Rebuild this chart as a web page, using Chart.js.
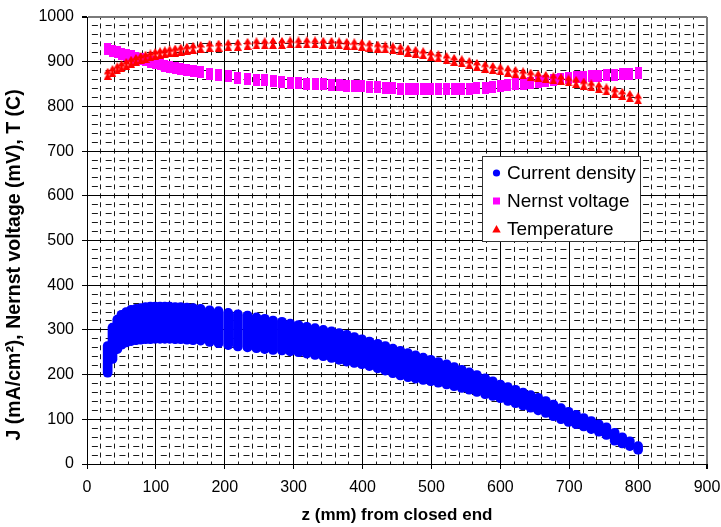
<!DOCTYPE html>
<html><head><meta charset="utf-8">
<script src="https://cdn.jsdelivr.net/npm/chart.js@4.4.1/dist/chart.umd.min.js"></script>
<style>html,body{margin:0;padding:0;background:#fff;}#wrap{width:721px;height:527px;}</style>
</head><body><div id="wrap"><canvas id="c" width="721" height="527"></canvas></div>
<script>
// z positions (mm from closed end)
const zPos = [30,37,44,50,57,64,71,78,85,92,99,106,113,120,128,136,145,154,165,178,191,205,219,233,246,258,270,283,295,307,319,331,343,355,366,377,388,399,410,422,433,444,455,466,477,488,499,510,522,533,544,555,566,578,589,600,611,622,633,644,655,666,677,688,699,710,721,732,743,754,766,777,788,800];
// current density spread at each z (mA/cm2): upper and lower extent of the stacked dots
const jHigh = [274,315,333,344,350,355,357,359,361,362,362,362,362,362,361,361,360,359,357,354,352,348,345,342,338,335,331,328,324,321,317,314,310,307,303,299,294,289,284,279,274,268,263,258,253,248,243,238,233,227,221,215,209,202,195,188,182,176,170,164,158,151,143,135,127,120,113,106,99,92,80,70,61,50];
const jLow = [194,225,247,257,262,265,267,268,269,269,270,270,270,270,269,269,268,267,266,263,260,256,253,251,249,247,245,244,242,240,237,234,231,227,223,219,216,213,209,204,199,193,188,184,181,178,175,172,168,164,160,156,151,146,142,137,131,126,121,116,110,104,97,90,84,79,74,68,62,55,42,36,30,22];
// Nernst voltage (mV)
const nernst = [929,925,921,918,915,912,909,906,903,900,897,894,891,889,886,884,881,879,876,873,870,867,864,862,860,858,856,855,853,852,851,850,849,848,847,846,845,845,844,843,842,841,840,840,839,838,838,838,838,838,839,840,841,842,844,846,847,849,851,853,855,857,859,861,863,865,866,867,869,870,871,872,873,874];
// Temperature (C)
const temperature = [873,879,885,890,895,900,904,908,911,914,917,919,921,923,925,927,929,931,933,935,936,937,938,940,941,941,942,942,943,943,943,943,942,942,941,940,939,938,936,934,932,930,928,925,922,919,915,912,908,904,901,897,893,889,886,883,880,877,874,871,868,866,863,861,858,855,851,847,843,838,833,828,823,818];
const seriesNames = ['Current density','Nernst voltage','Temperature'];
const xTickLabels = [0,100,200,300,400,500,600,700,800,900];
const yTickLabels = [0,100,200,300,400,500,600,700,800,900,1000];

const FONT = '"Liberation Sans", Arial, sans-serif';
Chart.defaults.font.family = FONT;
Chart.defaults.color = '#000';

function makeMark(w, h, color, kind) {
  const c = document.createElement('canvas');
  c.width = w; c.height = h;
  const g = c.getContext('2d');
  g.fillStyle = color;
  if (kind === 'rect') { g.fillRect(0, 0, w, h); }
  else {
    g.beginPath();
    g.moveTo(w/2, 0); g.lineTo(w, 6.5); g.lineTo(0, 6.5); g.closePath();
    g.moveTo(w/2, 4.5); g.lineTo(w, h); g.lineTo(0, h); g.closePath();
    g.fill();
  }
  return c;
}
const nernstMark = makeMark(7, 12, '#FF00FF', 'rect');
const tempMark = makeMark(8, 12, '#FF0000', 'tri');

function isMajor(v, labels) { return labels.includes(Math.round(v)); }

const boxLegend = {
  id: 'boxLegend',
  afterDraw(chart) {
    const ctx = chart.ctx;
    const L = 482.5, T = 156.5, W = 158, H = 85;
    ctx.save();
    ctx.fillStyle = '#fff';
    ctx.fillRect(L, T, W, H);
    ctx.strokeStyle = '#333';
    ctx.lineWidth = 1;
    ctx.strokeRect(L, T, W, H);
    const rows = [173, 201, 229];
    const mx = 496.5;
    ctx.fillStyle = '#0000FF';
    ctx.beginPath(); ctx.arc(mx, rows[0], 3.6, 0, Math.PI*2); ctx.fill();
    ctx.fillStyle = '#FF00FF';
    ctx.fillRect(mx - 3.5, rows[1] - 3.5, 7, 7);
    ctx.fillStyle = '#FF0000';
    ctx.beginPath(); ctx.moveTo(mx, rows[2] - 4); ctx.lineTo(mx + 4.2, rows[2] + 3.5); ctx.lineTo(mx - 4.2, rows[2] + 3.5); ctx.closePath(); ctx.fill();
    ctx.fillStyle = '#000';
    ctx.font = '19px ' + FONT;
    ctx.textBaseline = 'middle';
    ctx.textAlign = 'left';
    const ds = chart.data.datasets;
    for (let i = 0; i < 3; i++) ctx.fillText(ds[i].label, 507, rows[i] + 1);
    ctx.restore();
  }
};

const gridColor = (labels, edge) => (c) => {
  if (!c.tick) return '#000';
  const v = Math.round(c.tick.value);
  if (v === edge) return '#7a7a7a';
  return isMajor(v, labels) ? '#000' : '#1a1a1a';
};

// layout targets (plot area in px)
const target = {left: 87, right: 707, top: 17, bottom: 464};
let yAxisWidth = 87, xAxisHeight = 63;
const pad = {top: 17, right: 14, left: 0, bottom: 0};

const chart = new Chart(document.getElementById('c'), {
  type: 'scatter',
  data: {
    datasets: [
      {
        type: 'bar', label: seriesNames[0],
        data: zPos.map((z, i) => ({x: z, y: [jLow[i], jHigh[i]]})),
        backgroundColor: '#0000FF', borderWidth: 0, barThickness: 9,
        borderRadius: 4.5, borderSkipped: false, order: 3
      },
      {
        type: 'scatter', label: seriesNames[1],
        data: zPos.map((z, i) => ({x: z, y: nernst[i]})),
        pointStyle: nernstMark, backgroundColor: '#FF00FF', borderWidth: 0, order: 2
      },
      {
        type: 'scatter', label: seriesNames[2],
        data: zPos.map((z, i) => ({x: z, y: temperature[i]})),
        pointStyle: tempMark, backgroundColor: '#FF0000', borderWidth: 0, order: 1
      }
    ]
  },
  options: {
    responsive: false, animation: false, devicePixelRatio: 1,
    layout: {padding: Object.assign({}, pad)},
    plugins: {legend: {display: false}, tooltip: {enabled: false}},
    scales: {
      x: {
        type: 'linear', min: 0, max: 900, offset: false,
        ticks: {stepSize: 20, autoSkip: false, maxRotation: 0, maxTicksLimit: 1000, padding: 0,
          font: {size: 16, lineHeight: '38px'}, color: '#000',
          callback: (v) => isMajor(v, xTickLabels) ? String(Math.round(v)) : ''},
        grid: {
          offset: false,
          color: gridColor(xTickLabels, 900),
          lineWidth: (c) => (c.tick && Math.round(c.tick.value) === 900) ? 2 : 1,
          tickLength: 5,
          tickColor: (c) => (c.tick && isMajor(c.tick.value, xTickLabels)) ? '#000' : 'rgba(0,0,0,0)'
        },
        border: {display: true, color: '#000', width: 1,
          dash: (c) => (c.tick && !isMajor(c.tick.value, xTickLabels)) ? [5, 3.94] : [],
          dashOffset: 2.5},
        title: {display: true, text: 'z (mm) from closed end', color: '#000',
          font: {size: 17, weight: 'bold'}, padding: {top: 0, bottom: 1}},
        afterFit: (s) => { s.height = xAxisHeight; }
      },
      y: {
        type: 'linear', min: 0, max: 1000, offset: false,
        ticks: {stepSize: 20, autoSkip: false, maxTicksLimit: 1000, padding: 8,
          font: {size: 16, lineHeight: 1}, color: '#000',
          callback: (v) => isMajor(v, yTickLabels) ? String(Math.round(v)) : ''},
        grid: {
          offset: false,
          color: gridColor(yTickLabels, 1000),
          lineWidth: (c) => (c.tick && Math.round(c.tick.value) === 1000) ? 2 : 1,
          tickLength: 5,
          tickColor: (c) => (c.tick && isMajor(c.tick.value, yTickLabels)) ? '#000' : 'rgba(0,0,0,0)'
        },
        border: {display: true, color: '#000', width: 1,
          dash: (c) => (c.tick && !isMajor(c.tick.value, yTickLabels)) ? [6, 7.78] : [],
          dashOffset: 9.89},
        title: {display: true, text: 'J (mA/cm²), Nernst voltage (mV), T (C)         ', color: '#000',
          font: {size: 19.5, weight: 'bold'}, padding: {top: 3, bottom: 0}},
        afterFit: (s) => { s.width = yAxisWidth; }
      }
    }
  },
  plugins: [boxLegend]
});

// nudge the layout so the plot area lands where the reference has it
for (let k = 0; k < 5; k++) {
  const a = chart.chartArea;
  const dl = a.left - target.left, dr = a.right - target.right;
  const dt = a.top - target.top, db = a.bottom - target.bottom;
  if (Math.abs(dl) < 0.25 && Math.abs(dr) < 0.25 && Math.abs(dt) < 0.25 && Math.abs(db) < 0.25) break;
  yAxisWidth -= dl;
  pad.right += dr;
  pad.top -= dt;
  xAxisHeight += db;
  chart.options.layout.padding = Object.assign({}, pad);
  chart.update();
}
</script></body></html>
